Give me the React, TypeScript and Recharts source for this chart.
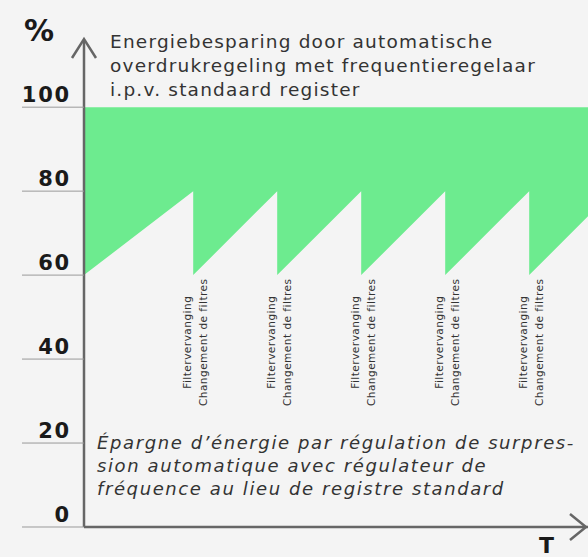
import React from 'react';
import { ComposedChart, Area, XAxis, YAxis, ReferenceDot } from 'recharts';

// time (arbitrary units) and lower edge of the saving band (%)
const times = [0, 1.3, 1.3, 2.3, 2.3, 3.3, 3.3, 4.3, 4.3, 5.3, 5.3, 6];
const lowerEdge = [60, 80, 60, 80, 60, 80, 60, 80, 60, 80, 60, 74];
const upperEdge = 100;
const filterChanges = [1.3, 2.3, 3.3, 4.3, 5.3];
const yTicks = [0, 20, 40, 60, 80, 100];

const titleNl = [
  'Energiebesparing door automatische',
  'overdrukregeling met frequentieregelaar',
  'i.p.v. standaard register',
];
const titleFr = [
  'Épargne d’énergie par régulation de surpres-',
  'sion automatique avec régulateur de',
  'fréquence au lieu de registre standard',
];
const filterLabel = ['Filtervervanging', 'Changement de filtres'];

const data = times.map((t, i) => ({ t, band: [lowerEdge[i], upperEdge] }));

const GREEN = '#6deb8f';
const AXIS = '#666';
const FONT = '"DejaVu Sans", Verdana, sans-serif';

const PctTick = ({ x, y, payload }: any) => (
  <g>
    <line x1={22} x2={x} y1={y} y2={y} stroke="#999" strokeWidth={1} />
    <text
      x={x - 13}
      y={y - 5}
      textAnchor="end"
      fontFamily={FONT}
      fontWeight="bold"
      fontSize={21}
      letterSpacing={1.8}
      fill="#1a1a1a"
    >
      {payload.value}
    </text>
  </g>
);

const UpArrow = ({ cx, cy }: any) => (
  <path
    d={`M${cx - 12},${cy + 18} L${cx},${cy - 1} L${cx + 12},${cy + 18}`}
    fill="none"
    stroke={AXIS}
    strokeWidth={2.5}
  />
);

const RightArrow = ({ cx, cy }: any) => (
  <path
    d={`M${cx - 18},${cy - 13} L${cx - 2},${cy} L${cx - 18},${cy + 13}`}
    fill="none"
    stroke={AXIS}
    strokeWidth={2.5}
  />
);

const FilterText = ({ cx, cy }: any) => (
  <text
    transform={`translate(${cx + 2},${cy}) rotate(-90)`}
    textAnchor="middle"
    fontFamily={FONT}
    fontSize={10.5}
    letterSpacing={0.5}
    fill="#333"
  >
    <tspan x={0} y={-4}>{filterLabel[0]}</tspan>
    <tspan x={0} y={12}>{filterLabel[1]}</tspan>
  </text>
);

export default function App() {
  return (
    <div
      style={{
        position: 'absolute',
        left: 0,
        top: 0,
        width: 588,
        height: 557,
        background: '#f4f4f4',
      }}
    >
      <ComposedChart
        width={588}
        height={557}
        data={data}
        margin={{ top: 40, right: 0, bottom: 0, left: 0 }}
      >
        <XAxis
          dataKey="t"
          type="number"
          domain={[0, 6]}
          height={30}
          tick={false}
          tickLine={false}
          axisLine={{ stroke: AXIS, strokeWidth: 2.5 }}
        />
        <YAxis
          type="number"
          domain={[0, 116]}
          ticks={yTicks}
          width={84}
          tickSize={0}
          tickMargin={0}
          tickLine={false}
          tick={<PctTick />}
          axisLine={{ stroke: AXIS, strokeWidth: 2.5 }}
        />
        <Area
          type="linear"
          dataKey="band"
          stroke="none"
          fill={GREEN}
          fillOpacity={1}
          isAnimationActive={false}
        />
        {filterChanges.map((t) => (
          <ReferenceDot key={t} x={t} y={44} shape={<FilterText />} ifOverflow="visible" />
        ))}
        <ReferenceDot x={0} y={116} shape={<UpArrow />} ifOverflow="visible" />
        <ReferenceDot x={6} y={0} shape={<RightArrow />} ifOverflow="visible" />
        <text x={24} y={41} fontFamily={FONT} fontWeight="bold" fontSize={30} fill="#1a1a1a">
          %
        </text>
        <text x={539} y={553} fontFamily={FONT} fontWeight="bold" fontSize={22} fill="#1a1a1a">
          T
        </text>
        <text fontFamily={FONT} fontSize={18.5} fill="#333" letterSpacing={1.2}>
          {titleNl.map((line, i) => (
            <tspan key={i} x={110} y={48 + i * 24}>
              {line}
            </tspan>
          ))}
        </text>
        <text fontFamily={FONT} fontSize={18} fontStyle="italic" fill="#333" letterSpacing={1.6}>
          {titleFr.map((line, i) => (
            <tspan key={i} x={97} y={449 + i * 23}>
              {line}
            </tspan>
          ))}
        </text>
      </ComposedChart>
    </div>
  );
}
